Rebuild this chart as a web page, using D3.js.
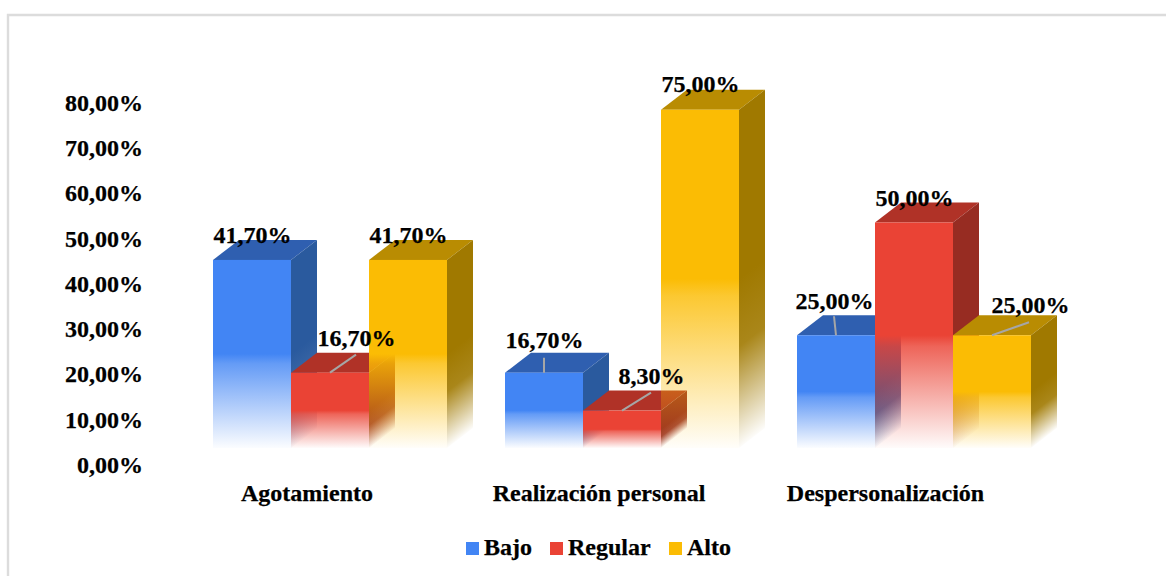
<!DOCTYPE html>
<html><head><meta charset="utf-8">
<script src="https://cdn.jsdelivr.net/npm/d3@7/dist/d3.min.js"></script>
<style>html,body{margin:0;padding:0;background:#fff}svg{display:block}text{font-family:"Liberation Serif",serif;font-weight:700;fill:#000;stroke:#000;stroke-width:.25px}</style>
</head><body><svg id="c" width="1166" height="576"></svg>
<script>
const categories = ["Agotamiento","Realización personal","Despersonalización"];
const seriesNames = ["Bajo","Regular","Alto"];
const bajo = [41.7,16.7,25];
const regular = [16.7,8.3,50];
const alto = [41.7,75,25];
const tickValues = [0,10,20,30,40,50,60,70,80];
const fmt = v => d3.format(".2f")(v).replace(".",",")+"%";

const svg = d3.select("#c");
const dx=26, dy=-20;
const colors={Bajo:{f:"#4285f4",t:"#2f5fb0",s:"#2a5a9e"},Regular:{f:"#ea4335",t:"#b03227",s:"#972c22"},Alto:{f:"#fbbc04",t:"#b98c02",s:"#a07900"}};
const values={Bajo:bajo,Regular:regular,Alto:alto};

svg.append("path").attr("d","M8,576V15H1166").attr("fill","none").attr("stroke","#dcdcdc").attr("stroke-width",2.4);

const xs=d3.scaleBand().domain(seriesNames).range([0,234]);
const y=d3.scaleLinear().domain([0,80]).range([448,87.2]);
const yAxisScale=d3.scaleLinear().domain([0,80]).range([464.6,102.6]);
const groupLeft=c=>213+categories.indexOf(c)*292;
const defs=svg.append("defs");

const ax=svg.append("g").attr("transform","translate(143,0)")
  .call(d3.axisLeft(yAxisScale).tickValues(tickValues).tickFormat(fmt).tickSize(0).tickPadding(0));
ax.select(".domain").remove();
ax.selectAll("text").style("font-family",'"Liberation Serif",serif').style("font-weight",700).style("font-size","24px");

let gid=0;
function grad(color,y1,y2,stops,tf){
  const id="g"+(gid++);
  const g=defs.append("linearGradient").attr("id",id).attr("gradientUnits","userSpaceOnUse")
    .attr("x1",0).attr("x2",0).attr("y1",y1).attr("y2",y2);
  if(tf) g.attr("gradientTransform",tf);
  stops.forEach(([o,a])=>g.append("stop").attr("offset",o).attr("stop-color",color).attr("stop-opacity",a));
  return `url(#${id})`;
}
const line=d3.line();
const skewDeg=Math.atan2(dy,dx)*180/Math.PI;
categories.forEach((c,ci)=>{
  seriesNames.forEach(s=>{
    const v=values[s][ci];
    const l=groupLeft(c)+xs(s), r=l+xs.bandwidth(), top=y(v), base=y(0), mid=(top+base)/2;
    const col=colors[s];
    const g=svg.append("g");
    g.append("path").attr("d",line([[l,top],[l+dx,top+dy],[r+dx,top+dy],[r,top]])+"Z").attr("fill",col.t);
    g.append("path").attr("d",line([[r,top],[r+dx,top+dy],[r+dx,base+dy],[r,base]])+"Z")
      .attr("fill",grad(col.s,mid,base,[[0,1],[.4,.9],[1,.02]],`translate(${r},0) skewY(${skewDeg}) translate(${-r},0)`));
    g.append("rect").attr("x",l).attr("y",top).attr("width",r-l).attr("height",base-top)
      .attr("fill",grad(col.f,mid,base,[[0,1],[.1,.82],[1,.02]]));
  });
});

// leader lines: series, category index, end offset from the front-top centre
const leaders=[["Regular",0,26,-18],["Bajo",1,0,-15],["Regular",1,29,-18],["Bajo",2,-2,-19],["Alto",2,37,-13]];
leaders.forEach(([s,ci,ex,ey])=>{
  const cx=groupLeft(categories[ci])+xs(s)+xs.bandwidth()/2, ty=y(values[s][ci]);
  svg.append("line").attr("x1",cx).attr("y1",ty).attr("x2",cx+ex).attr("y2",ty+ey).attr("stroke","#a6a6a6").attr("stroke-width",2);
});

const labelShift={Regular0:[26,-27],Bajo1:[0,-25],Regular1:[29,-27],Bajo2:[-2,-26],Alto2:[38,-22],Alto1:[0,-18]};
categories.forEach((c,ci)=>seriesNames.forEach(s=>{
  const v=values[s][ci];
  const sh=labelShift[s+ci]||[0,-17];
  svg.append("text").attr("x",groupLeft(c)+xs(s)+xs.bandwidth()/2+sh[0]+.5).attr("y",y(v)+sh[1]).attr("text-anchor","middle").attr("font-size",24).text(fmt(v));
}));

const catCenter=[307,599,885.5];
categories.forEach((c,i)=>svg.append("text").attr("x",catCenter[i]).attr("y",501).attr("text-anchor","middle").attr("font-size",24).text(c));

const leg=[[466,484],[550,568],[669,687]];
seriesNames.forEach((s,i)=>{
  svg.append("rect").attr("x",leg[i][0]).attr("y",542).attr("width",13).attr("height",13).attr("fill",colors[s].f);
  svg.append("text").attr("x",leg[i][1]).attr("y",555).attr("font-size",24).text(s);
});
</script></body></html>
